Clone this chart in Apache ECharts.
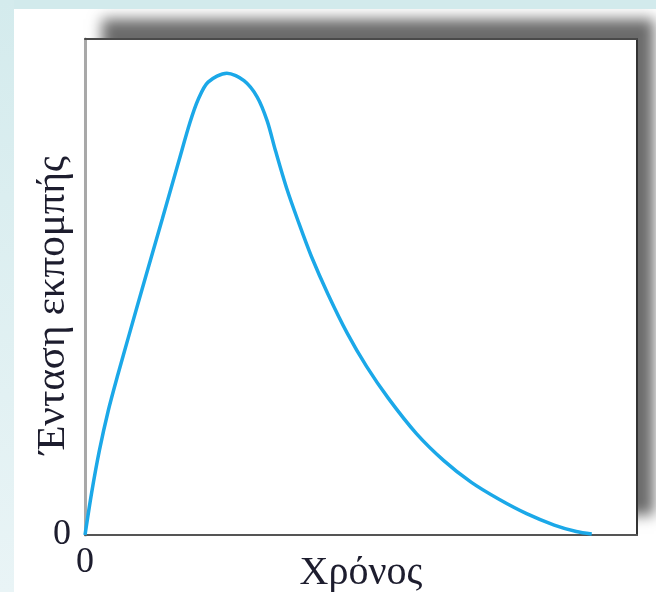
<!DOCTYPE html>
<html>
<head>
<meta charset="utf-8">
<script src="https://cdn.jsdelivr.net/npm/echarts@6/dist/echarts.min.js"></script>
<style>
  html, body { margin: 0; padding: 0; background: #fff; }
  #container { width: 656px; height: 592px; }
</style>
</head>
<body>
<div id="container"></div>
<script>
// time (0..100 of the x range) and emission intensity (0..100 of the y range)
var timeValues = [0, 1.2, 2.6, 4.2, 6, 8, 11, 14, 17, 19, 20.5, 22.3, 25.7,
    28.8, 31.2, 33, 34.5, 36.5, 38.7, 41, 44, 47.5, 51, 55, 60,
    65, 70, 75, 80, 85, 89, 91.8];
var intensityValues = [0, 8.5, 17, 25, 32.5, 40.4, 52.1, 63.7, 75.4, 83.1, 87.8, 91.3, 93.1,
    91.6, 88.3, 83.5, 77.5, 70, 63, 56.2, 48.6, 40.7, 34, 27.5, 20.5,
    15, 10.6, 7.2, 4.3, 2.0, 0.7, 0.2];
var xTickLabels = ['0'];
var yTickLabels = ['0'];
var xTitle = 'Χρόνος';
var yTitle = 'Ένταση εκπομπής';

var serif = '"Liberation Serif", "DejaVu Serif", serif';
var textColor = '#1d1d2e';

var myChart = echarts.init(document.getElementById('container'), null, { renderer: 'canvas' });

var points = timeValues.map(function (t, i) {
    return [t, intensityValues[i]];
});

// plain axis used only to draw the top / right frame lines
function frameAxis(position, color, width) {
    return {
        type: 'value',
        position: position,
        min: 0,
        max: 100,
        interval: 100,
        axisLine: { show: true, onZero: false, lineStyle: { color: color, width: width } },
        axisTick: { show: false },
        axisLabel: { show: false },
        splitLine: { show: false }
    };
}

var option = {
    backgroundColor: '#ffffff',
    animation: false,
    grid: {
        show: true,
        left: 85,
        right: 19,
        top: 39,
        bottom: 57,
        outerBoundsMode: 'none',
        containLabel: false,
        backgroundColor: '#ffffff',
        borderWidth: 0,
        shadowColor: 'rgba(0,0,0,0.58)',
        shadowBlur: 13,
        shadowOffsetX: 17,
        shadowOffsetY: -20
    },
    xAxis: [{
        type: 'value',
        min: 0,
        max: 100,
        interval: 100,
        name: xTitle,
        nameLocation: 'middle',
        nameGap: 18,
        nameMoveOverlap: false,
        nameTextStyle: { fontFamily: serif, fontSize: 40, color: textColor },
        axisLine: { show: true, lineStyle: { color: '#555', width: 2 } },
        axisTick: { show: false },
        splitLine: { show: false },
        axisLabel: {
            margin: 10,
            fontFamily: serif,
            fontSize: 36,
            color: textColor,
            formatter: function (v) { return v === 0 ? xTickLabels[0] : ''; }
        }
    }, frameAxis('top', '#4a4a4a', 2)],
    yAxis: [{
        type: 'value',
        min: 0,
        max: 100,
        interval: 100,
        axisLine: { show: true, lineStyle: { color: '#a8a8a8', width: 3 } },
        axisTick: { show: false },
        splitLine: { show: false },
        axisLabel: {
            margin: 14,
            fontFamily: serif,
            fontSize: 36,
            color: textColor,
            formatter: function (v) { return v === 0 ? yTickLabels[0] : ''; }
        }
    }, frameAxis('right', '#333', 2)],
    graphic: [
        // light blue page edges
        { type: 'rect', left: 0, top: 0, shape: { width: 656, height: 9 },
          style: { fill: '#d2eaec' }, silent: true },
        { type: 'rect', left: 0, top: 0, shape: { width: 14, height: 592 },
          style: { fill: new echarts.graphic.LinearGradient(0, 0, 0, 1, [
              { offset: 0, color: '#d4ebed' }, { offset: 1, color: '#e9f4f6' }
          ]) }, silent: true },
        {
            type: 'text',
            x: 53,
            y: 305,
            rotation: Math.PI / 2,
            style: {
                text: yTitle,
                fontFamily: serif,
                fontSize: 41,
                fill: textColor,
                align: 'center',
                verticalAlign: 'middle'
            },
            silent: true
        }
    ],
    series: [{
        type: 'line',
        data: points,
        smooth: 0.3,
        showSymbol: false,
        symbol: 'none',
        lineStyle: { color: '#1ba8e8', width: 3.5 },
        z: 5
    }]
};

myChart.setOption(option);
</script>
</body>
</html>
